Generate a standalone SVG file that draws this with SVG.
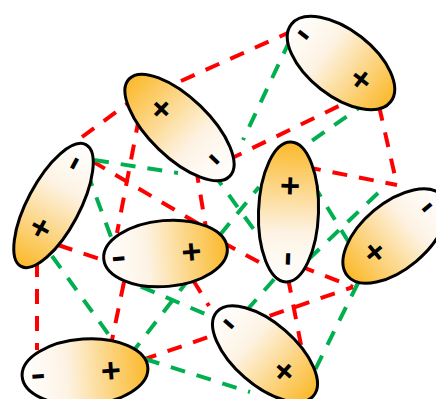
<svg xmlns="http://www.w3.org/2000/svg" width="436" height="399" viewBox="0 0 436 399">
<defs>
<linearGradient id="grad" x1="0" y1="0" x2="1" y2="0">
<stop offset="0" stop-color="#FFFFFF"/>
<stop offset="0.35" stop-color="#FDF3E4"/>
<stop offset="1" stop-color="#FBB92A"/>
</linearGradient>
</defs>
<style>
.mol{fill:url(#grad);stroke:#000;stroke-width:3}
.r{stroke:#FF0000;stroke-width:4;stroke-dasharray:15 12;fill:none}
.g{stroke:#00B050;stroke-width:4;stroke-dasharray:15 12;fill:none}
.p{font-family:"Liberation Sans",Arial,sans-serif;font-weight:bold;font-size:34px;text-anchor:middle;dominant-baseline:central;fill:#000}
</style>
<rect width="436" height="399" fill="#FFFFFF"/>
<g id="connectors">
<line class="r" x1="82" y1="137" x2="127" y2="104"/>
<line class="r" x1="181" y1="81" x2="290" y2="32"/>
<line class="r" x1="139" y1="118" x2="117" y2="233"/>
<line class="r" x1="92" y1="161" x2="202" y2="226"/>
<line class="r" x1="196" y1="168" x2="206" y2="228"/>
<line class="r" x1="228" y1="160" x2="347" y2="102"/>
<line class="r" x1="379" y1="106" x2="397" y2="185"/>
<line class="r" x1="306" y1="167" x2="397" y2="185"/>
<line class="r" x1="300" y1="266" x2="353" y2="287"/>
<line class="r" x1="142" y1="360" x2="353" y2="287"/>
<line class="r" x1="288" y1="278" x2="301" y2="345"/>
<line class="r" x1="222" y1="242" x2="268" y2="267"/>
<line class="r" x1="124" y1="282" x2="112" y2="340"/>
<line class="r" x1="37" y1="262" x2="37" y2="350"/>
<line class="r" x1="58" y1="245" x2="106" y2="261"/>
<line class="r" x1="193" y1="280" x2="209" y2="306"/>
<line class="g" x1="290" y1="40" x2="243" y2="140"/>
<line class="g" x1="94" y1="160" x2="178" y2="173"/>
<line class="g" x1="87" y1="172" x2="114" y2="245"/>
<line class="g" x1="213" y1="173" x2="265" y2="245"/>
<line class="g" x1="220" y1="235" x2="259" y2="187"/>
<line class="g" x1="290" y1="156" x2="366" y2="103"/>
<line class="g" x1="313" y1="184" x2="351" y2="246"/>
<line class="g" x1="378" y1="193" x2="290" y2="277"/>
<line class="g" x1="292" y1="259" x2="247" y2="310"/>
<line class="g" x1="52" y1="256" x2="114" y2="342"/>
<line class="g" x1="116" y1="276" x2="217" y2="319"/>
<line class="g" x1="189" y1="279" x2="135" y2="349"/>
<line class="g" x1="145" y1="359" x2="250" y2="392"/>
<line class="g" x1="358" y1="283" x2="312" y2="376"/>
</g>
<g id="m1" transform="translate(341,63) rotate(38)">
<ellipse class="mol" rx="63" ry="33"/>
<text class="p" x="26" y="0">+</text>
<text class="p" x="-47" y="-2" textLength="15" lengthAdjust="spacingAndGlyphs">-</text>
</g>
<g id="m2" transform="translate(179.5,127.5) rotate(224)">
<ellipse class="mol" rx="70" ry="30"/>
<text class="p" x="26" y="0">+</text>
<text class="p" x="-47" y="-2" textLength="15" lengthAdjust="spacingAndGlyphs">-</text>
</g>
<g id="m3" transform="translate(53.5,205.5) rotate(118)">
<ellipse class="mol" rx="69" ry="26"/>
<text class="p" x="26" y="0">+</text>
<text class="p" x="-47" y="-2" textLength="15" lengthAdjust="spacingAndGlyphs">-</text>
</g>
<g id="m4" transform="translate(165.5,253.5) rotate(-5)">
<ellipse class="mol" rx="62" ry="33"/>
<text class="p" x="26" y="0">+</text>
<text class="p" x="-47" y="-2" textLength="15" lengthAdjust="spacingAndGlyphs">-</text>
</g>
<g id="m5" transform="translate(288.5,212) rotate(-88)">
<ellipse class="mol" rx="70" ry="30"/>
<text class="p" x="26" y="0">+</text>
<text class="p" x="-47" y="-2" textLength="15" lengthAdjust="spacingAndGlyphs">-</text>
</g>
<g id="m6" transform="translate(395,236) rotate(140)">
<ellipse class="mol" rx="62" ry="33"/>
<text class="p" x="26" y="0">+</text>
<text class="p" x="-43" y="-2" textLength="14" lengthAdjust="spacingAndGlyphs">-</text>
</g>
<g id="m7" transform="translate(85,372) rotate(-4)">
<ellipse class="mol" rx="63" ry="33"/>
<text class="p" x="26" y="0">+</text>
<text class="p" x="-47" y="-2" textLength="15" lengthAdjust="spacingAndGlyphs">-</text>
</g>
<g id="m8" transform="translate(265,354) rotate(41)">
<ellipse class="mol" rx="64" ry="31"/>
<text class="p" x="26" y="0">+</text>
<text class="p" x="-47" y="-2" textLength="15" lengthAdjust="spacingAndGlyphs">-</text>
</g>
</svg>
